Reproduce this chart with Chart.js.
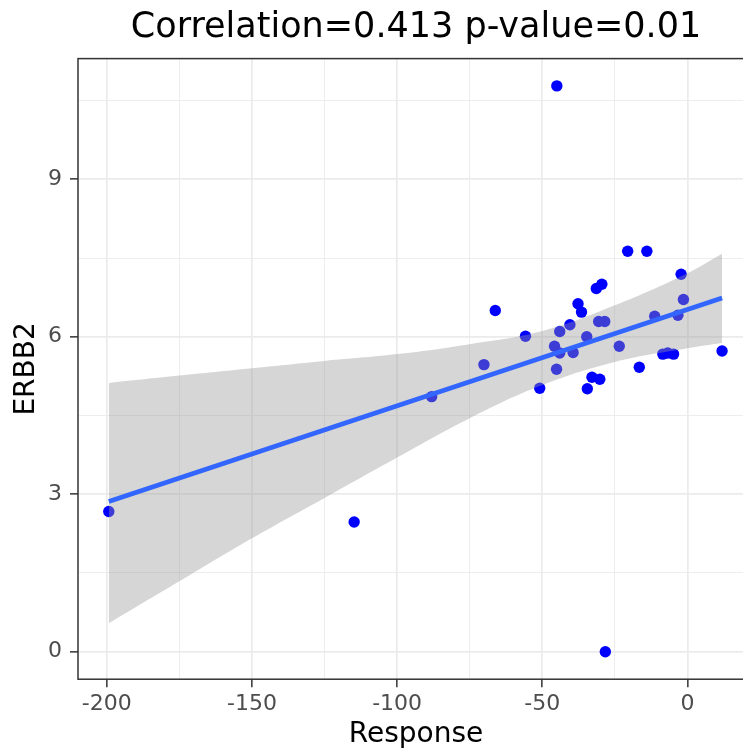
<!DOCTYPE html>
<html>
<head>
<meta charset="utf-8">
<script src="https://cdn.jsdelivr.net/npm/chart.js@4.4.1/dist/chart.umd.min.js"></script>
<style>
  html, body { margin: 0; padding: 0; background: #ffffff; overflow: hidden; }
  /* the panel runs past the right edge of the picture, so the canvas is wider and cropped */
  #wrap { width: 743px; height: 752px; overflow: hidden; }
  #chart { display: block; }
</style>
</head>
<body>
<div id="wrap"><canvas id="chart" width="756" height="752"></canvas></div>
<script>
// Scatter points (Response vs ERBB2)
const responseValues = [
  -199.3, -114.8, -88.1, -70.1, -66.2, -55.8, -50.9, -45.0, -45.8, -45.1,
  -44.0, -44.0, -40.5, -39.4, -37.7, -36.5, -34.7, -34.5, -32.9, -30.2,
  -31.4, -29.5, -30.6, -28.5, -28.3, -23.5, -20.6, -16.6, -14.0, -11.3,
  -8.5, -6.8, -4.8, -3.3, -2.2, -1.4, 11.9
];
const erbb2Values = [
  2.67, 2.47, 4.86, 5.47, 6.50, 6.01, 5.02, 10.78, 5.82, 5.38,
  6.10, 5.69, 6.23, 5.70, 6.63, 6.47, 6.00, 5.01, 5.23, 5.19,
  6.92, 7.00, 6.29, 6.29, 0.00, 5.82, 7.63, 5.42, 7.63, 6.39,
  5.67, 5.69, 5.67, 6.41, 7.19, 6.71, 5.73
];

// Fitted line end points
const fitX = [-199.3, 11.9];
const fitY = [2.86, 6.74];

// Confidence band edges
const bandX = [-199.3, -175, -150, -125, -100, -75, -50, -25, 0, 11.9];
const bandUpper = [5.12, 5.26, 5.40, 5.54, 5.67, 5.86, 6.11, 6.60, 7.21, 7.58];
const bandLower = [0.54, 1.34, 2.16, 2.93, 3.70, 4.45, 5.08, 5.52, 5.78, 5.88];

// Axis ticks
const xMajorTicks = [-200, -150, -100, -50, 0];
const xMinorTicks = [-175, -125, -75, -25];
const yMajorTicks = [0, 3, 6, 9];
const yMinorTicks = [1.5, 4.5, 7.5, 10.5];

const FONT = "'DejaVu Sans', sans-serif";

function toXY(xs, ys) {
  return xs.map((x, i) => ({ x: x, y: ys[i] }));
}

function gridFor(majors) {
  return {
    color: '#ebebeb',
    lineWidth: ctx => (ctx.tick && majors.includes(ctx.tick.value)) ? 1.7 : 0.9,
    tickColor: ctx => (ctx.tick && majors.includes(ctx.tick.value)) ? '#333333' : 'rgba(0,0,0,0)',
    tickWidth: 1.5,
    tickLength: 8,
    drawTicks: true
  };
}

// Panel border drawn over everything, like theme_bw
const panelBorder = {
  id: 'panelBorder',
  afterDatasetsDraw(chart) {
    const { ctx, chartArea } = chart;
    ctx.save();
    ctx.strokeStyle = '#333333';
    ctx.lineWidth = 1.5;
    ctx.strokeRect(chartArea.left, chartArea.top, chartArea.right - chartArea.left, chartArea.bottom - chartArea.top);
    ctx.restore();
  }
};

new Chart(document.getElementById('chart').getContext('2d'), {
  type: 'scatter',
  data: {
    datasets: [
      {
        type: 'line',
        data: toXY(fitX, fitY),
        borderColor: '#3366FF',
        borderWidth: 4.7,
        pointRadius: 0,
        fill: false
      },
      {
        type: 'line',
        data: toXY(bandX, bandUpper),
        borderWidth: 0,
        borderColor: 'rgba(0,0,0,0)',
        pointRadius: 0,
        tension: 0.4,
        backgroundColor: 'rgba(153,153,153,0.4)',
        fill: '+1'
      },
      {
        type: 'line',
        data: toXY(bandX, bandLower),
        borderWidth: 0,
        borderColor: 'rgba(0,0,0,0)',
        pointRadius: 0,
        tension: 0.4,
        fill: false
      },
      {
        data: toXY(responseValues, erbb2Values),
        backgroundColor: '#0000FF',
        borderWidth: 0,
        pointRadius: 5.7
      }
    ]
  },
  options: {
    responsive: false,
    animation: false,
    devicePixelRatio: 1,
    layout: { autoPadding: false, padding: { left: 0, right: 2, top: 0, bottom: 0 } },
    plugins: {
      legend: { display: false },
      tooltip: { enabled: false },
      title: {
        display: true,
        text: 'Correlation=0.413 p-value=0.01',
        fullSize: false,
        color: '#000000',
        font: { family: FONT, size: 35, weight: 'normal', lineHeight: 1.2 },
        padding: { top: 6.5, bottom: 10.1 }
      }
    },
    scales: {
      x: {
        type: 'linear',
        min: -209.9,
        max: 22.9,
        afterBuildTicks: scale => {
          scale.ticks = xMajorTicks.concat(xMinorTicks).sort((a, b) => a - b).map(v => ({ value: v }));
        },
        afterFit: scale => {
          scale.height = 72.8;
          scale.paddingLeft = 0;
          scale.paddingRight = 0;
        },
        grid: gridFor(xMajorTicks),
        border: { display: false },
        ticks: {
          autoSkip: false,
          maxRotation: 0,
          padding: 4,
          color: '#4d4d4d',
          font: { family: FONT, size: 22 },
          callback: v => xMajorTicks.includes(v) ? String(v) : ''
        },
        title: {
          display: true,
          text: 'Response',
          color: '#000000',
          font: { family: FONT, size: 28, lineHeight: 1.2 },
          padding: { top: 0, bottom: 0 }
        }
      },
      y: {
        type: 'linear',
        min: -0.524,
        max: 11.30,
        afterBuildTicks: scale => {
          scale.ticks = yMajorTicks.concat(yMinorTicks).sort((a, b) => a - b).map(v => ({ value: v }));
        },
        afterFit: scale => {
          scale.width = 78;
          scale.paddingTop = 0;
          scale.paddingBottom = 0;
        },
        grid: gridFor(yMajorTicks),
        border: { display: false },
        ticks: {
          autoSkip: false,
          padding: 8,
          color: '#4d4d4d',
          font: { family: FONT, size: 22 },
          callback: v => yMajorTicks.includes(v) ? String(v) : ''
        },
        title: {
          display: true,
          text: 'ERBB2',
          color: '#000000',
          font: { family: FONT, size: 28, lineHeight: 1.2 },
          padding: { top: 10, bottom: 0 }
        }
      }
    }
  },
  plugins: [panelBorder]
});
</script>
</body>
</html>
